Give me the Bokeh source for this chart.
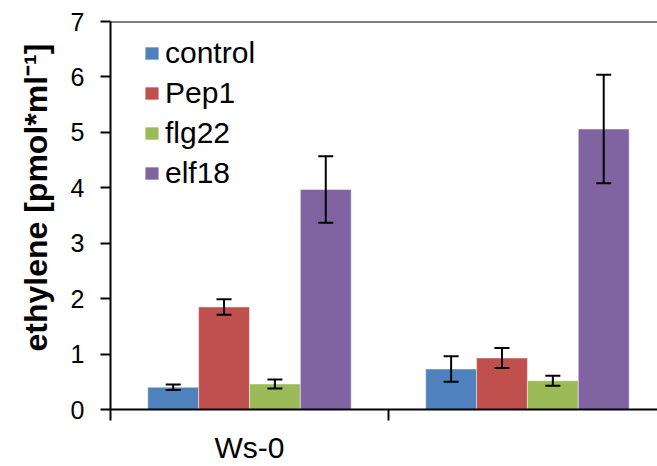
from bokeh.plotting import figure
from bokeh.models import (ColumnDataSource, Range1d, FixedTicker, Whisker, TeeHead,
                          Legend, LegendItem, Span, Title)
from bokeh.embed import file_html
from bokeh.resources import INLINE

# ---- data ----
groups = ["Ws-0", ""]
treatments = ["control", "Pep1", "flg22", "elf18"]
colors = ["#4F81BD", "#C0504D", "#9BBB59", "#8064A2"]
control_mean = [0.40, 0.73]
control_err = [0.05, 0.23]
pep1_mean = [1.85, 0.93]
pep1_err = [0.14, 0.18]
flg22_mean = [0.46, 0.52]
flg22_err = [0.08, 0.09]
elf18_mean = [3.97, 5.06]
elf18_err = [0.60, 0.98]
y_ticks = [0, 1, 2, 3, 4, 5, 6, 7]
y_title = "ethylene [pmol*ml\u207b\u00b9]"

means = [control_mean, pep1_mean, flg22_mean, elf18_mean]
errs = [control_err, pep1_err, flg22_err, elf18_err]

FONT = "Liberation Sans"
bar_w = 0.183
group_centers = [i + 0.5 for i in range(len(groups))]

p = figure(width=657, height=466, output_backend="svg", toolbar_location=None,
           x_range=Range1d(0, 1.968), y_range=Range1d(0, 7),
           min_border_left=110, min_border_right=0, min_border_top=21,
           min_border_bottom=55)
p.outline_line_color = None
p.grid.visible = False
p.background_fill_color = "white"
p.border_fill_color = "white"

items = []
for k, (name, col) in enumerate(zip(treatments, colors)):
    off = (k - 1.5) * bar_w
    xs = [c + off for c in group_centers]
    m = means[k]
    e = errs[k]
    src = ColumnDataSource(dict(x=xs, top=m,
                                upper=[a + b for a, b in zip(m, e)],
                                lower=[a - b for a, b in zip(m, e)]))
    r = p.vbar(x="x", top="top", width=bar_w, source=src, fill_color=col,
               line_color="white", line_alpha=0.45, line_width=1)
    items.append(LegendItem(label=name, renderers=[r]))
    w = Whisker(base="x", upper="upper", lower="lower", source=src,
                level="overlay",
                line_color="black", line_width=2,
                upper_head=TeeHead(size=15, line_width=2, line_color="black"),
                lower_head=TeeHead(size=15, line_width=2, line_color="black"))
    p.add_layout(w)

# top frame line
p.add_layout(Span(location=7, dimension="width", line_color="black", line_width=2))

# y axis
ya = p.yaxis[0]
ya.ticker = FixedTicker(ticks=y_ticks)
ya.axis_line_width = 2
ya.axis_line_color = "black"
ya.major_tick_line_width = 2
ya.major_tick_out = 10
ya.major_tick_in = 0
ya.minor_tick_line_color = None
ya.major_label_text_font = FONT
ya.major_label_text_font_size = "25px"
ya.major_label_text_color = "black"
ya.major_label_standoff = 16

# y title as a left title, bottom-aligned with an upward offset
p.add_layout(Title(text=y_title, align="left", offset=58, standoff=28,
                   text_font=FONT, text_font_style="bold",
                   text_font_size="32px", text_color="black"), "left")

# x axis
xa = p.xaxis[0]
xa.ticker = FixedTicker(ticks=group_centers, minor_ticks=[0, 1, 2])
xa.major_label_overrides = {c: g for c, g in zip(group_centers, groups)}
xa.axis_line_width = 2
xa.axis_line_color = "black"
xa.major_tick_out = 0
xa.major_tick_in = 0
xa.major_tick_line_color = None
xa.minor_tick_out = 11
xa.minor_tick_in = 0
xa.minor_tick_line_width = 2
xa.minor_tick_line_color = "black"
xa.major_label_text_font = FONT
xa.major_label_text_font_size = "30px"
xa.major_label_text_color = "black"
xa.major_label_standoff = 10

legend = Legend(items=items, location=(33, 219), padding=0, margin=0,
                border_line_color=None, background_fill_alpha=0,
                glyph_width=17, glyph_height=16, label_standoff=5,
                spacing=6, label_text_font=FONT, label_text_font_size="30px",
                label_text_color="black")
p.add_layout(legend)

open("out.html", "w").write(file_html(p, INLINE))
